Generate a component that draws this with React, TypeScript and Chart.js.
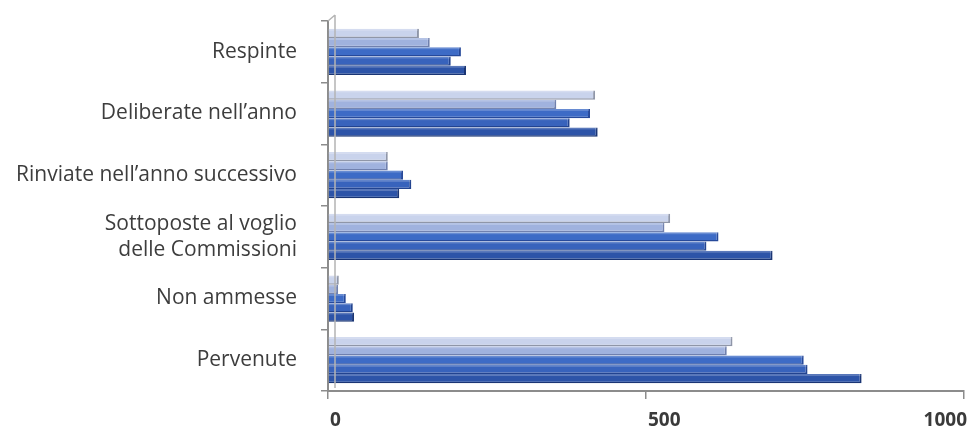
import React, { useEffect, useRef } from "react";
import { Chart, registerables } from "chart.js";

Chart.register(...registerables);

const categories: (string | string[])[] = [
  "Respinte",
  "Deliberate nell’anno",
  "Rinviate nell’anno successivo",
  ["Sottoposte al voglio", "delle Commissioni"],
  "Non ammesse",
  "Pervenute",
];

const series1 = [143, 420, 94, 538, 17, 636];
const series2 = [160, 359, 94, 529, 16, 627];
const series3 = [209, 412, 118, 614, 28, 748];
const series4 = [193, 380, 131, 595, 39, 754];
const series5 = [217, 424, 112, 699, 41, 839];

const seriesNames = ["Serie 1", "Serie 2", "Serie 3", "Serie 4", "Serie 5"];
const xTicks = [0, 500, 1000];

const fills = ["#c9d3ec", "#a0b2de", "#3d6bc6", "#3863bc", "#2d54a8"];
const edges = ["#8f96a8", "#7080ae", "#26499a", "#22438f", "#1a3574"];

const decorPlugin = {
  id: "decor",
  afterDatasetsDraw(chart: any) {
    const ctx = chart.ctx;
    ctx.save();
    chart.data.datasets.forEach((_: any, di: number) => {
      const meta = chart.getDatasetMeta(di);
      meta.data.forEach((el: any) => {
        const top = el.y - el.height / 2;
        const l = Math.min(el.base, el.x);
        const w = Math.abs(el.x - el.base);
        ctx.fillStyle = "rgba(255,255,255,0.22)";
        ctx.fillRect(l, top, w - 1, 2);
      });
    });
    ctx.restore();
  },
  afterDraw(chart: any) {
    const ctx = chart.ctx;
    const area = chart.chartArea;
    const xs = chart.scales.x;
    ctx.save();
    // back wall line (3D look)
    ctx.strokeStyle = "#b4b4b4";
    ctx.lineWidth = 1.5;
    ctx.beginPath();
    ctx.moveTo(area.left + 7, area.top - 6);
    ctx.lineTo(area.left + 7, area.bottom - 3);
    ctx.moveTo(area.left, area.top);
    ctx.lineTo(area.left + 7, area.top - 6);
    ctx.stroke();
    // x tick labels
    ctx.font = "bold 19px 'Open Sans'";
    ctx.fillStyle = "#3a3a3a";
    ctx.textBaseline = "middle";
    ctx.textAlign = "left";
    xTicks.forEach((v) => {
      const label = String(v);
      const px = xs.getPixelForValue(v);
      const w = ctx.measureText(label).width;
      let x = px + 2;
      if (x + w > chart.width - 3) x = chart.width - 3 - w;
      ctx.fillText(label, x, area.bottom + 30);
    });
    ctx.restore();
  },
};

export default function App() {
  const ref = useRef<HTMLCanvasElement | null>(null);

  useEffect(() => {
    if (!ref.current) return;
    const all = [series1, series2, series3, series4, series5];
    const chart = new Chart(ref.current, {
      type: "bar",
      data: {
        labels: categories,
        datasets: all.map((d, i) => ({
          label: seriesNames[i],
          data: d,
          backgroundColor: fills[i],
          borderColor: edges[i],
          borderWidth: { top: 0, left: 0, right: 2, bottom: 1.5 },
          borderSkipped: false,
          categoryPercentage: 0.75,
          barPercentage: 1,
        })),
      },
      options: {
        indexAxis: "y",
        animation: false,
        responsive: true,
        maintainAspectRatio: false,
        layout: { padding: { top: 21, right: 6, left: 0, bottom: 0 } },
        plugins: {
          legend: { display: false },
          tooltip: { enabled: false },
        },
        scales: {
          x: {
            min: 0,
            max: 1000,
            afterBuildTicks: (scale: any) => {
              scale.ticks = xTicks.map((v) => ({ value: v }));
            },
            afterFit: (scale: any) => {
              scale.height = 41;
              scale.paddingLeft = 0;
              scale.paddingRight = 0;
            },
            ticks: { display: false },
            grid: {
              drawOnChartArea: false,
              drawTicks: true,
              tickLength: 8,
              color: "#8c8c8c",
              lineWidth: 1.5,
            },
            border: { display: true, color: "#8c8c8c", width: 2 },
          },
          y: {
            afterFit: (scale: any) => {
              scale.width = 328;
              scale.paddingTop = 0;
              scale.paddingBottom = 0;
            },
            ticks: {
              color: "#3d3d3d",
              padding: 24,
              font: { family: "'Open Sans'", size: 21, lineHeight: 1.24 },
            },
            grid: {
              offset: true,
              drawOnChartArea: false,
              drawTicks: true,
              tickLength: 7,
              color: "#8c8c8c",
              lineWidth: 1.5,
            },
            border: { display: true, color: "#8c8c8c", width: 2 },
          },
        },
      },
      plugins: [decorPlugin],
    });
    return () => chart.destroy();
  }, []);

  return (
    <div style={{ position: "absolute", left: 0, top: 0, width: 970, height: 432, background: "#ffffff" }}>
      <canvas ref={ref} />
    </div>
  );
}
